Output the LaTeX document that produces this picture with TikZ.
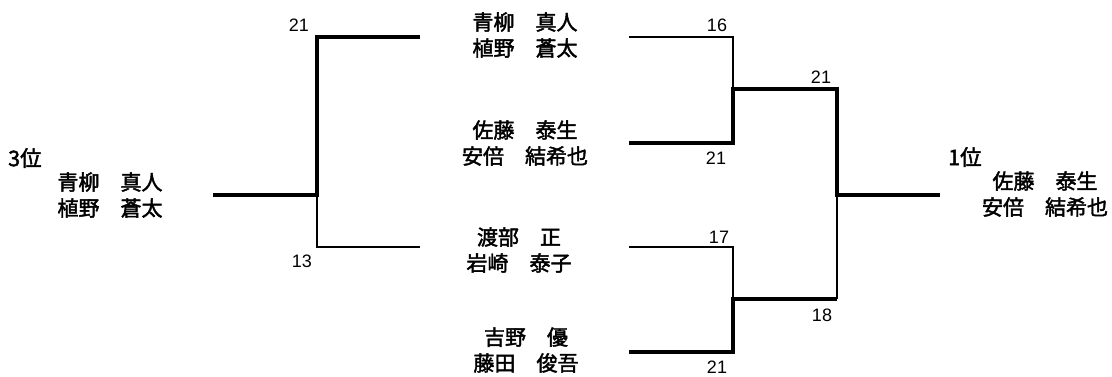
\documentclass[tikz,border=0pt]{standalone}
\usepackage{fontspec}
\setmainfont{Liberation Sans}
\newfontfamily\jp[FakeBold=2]{Noto Sans CJK JP}
\begin{document}
\begin{tikzpicture}[x=1pt,y=-1pt,
  win/.style={line width=4.6pt,line join=miter},
  lose/.style={line width=1.4pt},
  pname/.style={font=\jp\fontsize{21}{26}\selectfont,align=center,inner sep=0pt},
  score/.style={font=\fontsize{18}{18}\selectfont,inner sep=0pt},
  rank/.style={font=\jp\fontsize{21.5}{21.5}\selectfont,inner sep=0pt,anchor=west}]
\useasboundingbox (0,0) rectangle (1112,376);
% names
\node[pname] (p1) at (525,35) {青柳　真人\\植野　蒼太};
\node[pname] (p2) at (525,143) {佐藤　泰生\\安倍　結希也};
\node[pname] (p3) at (519,250) {渡部　正\\岩崎　泰子};
\node[pname] (p4) at (526,350) {吉野　優\\藤田　俊吾};
\node[rank] (r3) at (8,158) {3位};
\node[pname] (w3) at (110,195) {青柳　真人\\植野　蒼太};
\node[rank] (r1) at (948,157) {1位};
\node[pname] (w1) at (1045,194) {佐藤　泰生\\安倍　結希也};
% bracket coordinates
\coordinate (a1) at (420,37);  \coordinate (a2) at (317,37);
\coordinate (am) at (317,195); \coordinate (as) at (213,195);
\coordinate (a3) at (317,247); \coordinate (a4) at (420,247);
\coordinate (b1) at (629,37);  \coordinate (b2) at (733,37);
\coordinate (bm) at (733,89);
\coordinate (b3) at (733,143); \coordinate (b4) at (629,143);
\coordinate (c1) at (629,247); \coordinate (c2) at (733,247);
\coordinate (cm) at (733,299);
\coordinate (c3) at (733,352); \coordinate (c4) at (629,352);
\coordinate (d1) at (837,89);  \coordinate (dm) at (837,195);
\coordinate (d3) at (837,299); \coordinate (ds) at (940,195);
% losers (thin)
\draw[lose] (am) -- (a3) -- (a4);
\draw[lose] (b1) -- (b2) -- (bm);
\draw[lose] (c1) -- (c2) -- (cm);
\draw[lose] (dm) -- (d3);
% winners (thick)
\draw[win] (a1) -- (a2) -- (am) -- (as);
\draw[win] (b4) -- (b3) -- (bm) -- (d1) -- (dm) -- (ds);
\draw[win] (c4) -- (c3) -- (cm) -- (d3);
% scores
\node[score] (s1) at (299,25) {21};
\node[score] (s2) at (302,261) {13};
\node[score] (s3) at (717,25) {16};
\node[score] (s4) at (716,158) {21};
\node[score] (s5) at (821,77) {21};
\node[score] (s6) at (719,237) {17};
\node[score] (s7) at (822,315) {18};
\node[score] (s8) at (717,367) {21};
\end{tikzpicture}
\end{document}
